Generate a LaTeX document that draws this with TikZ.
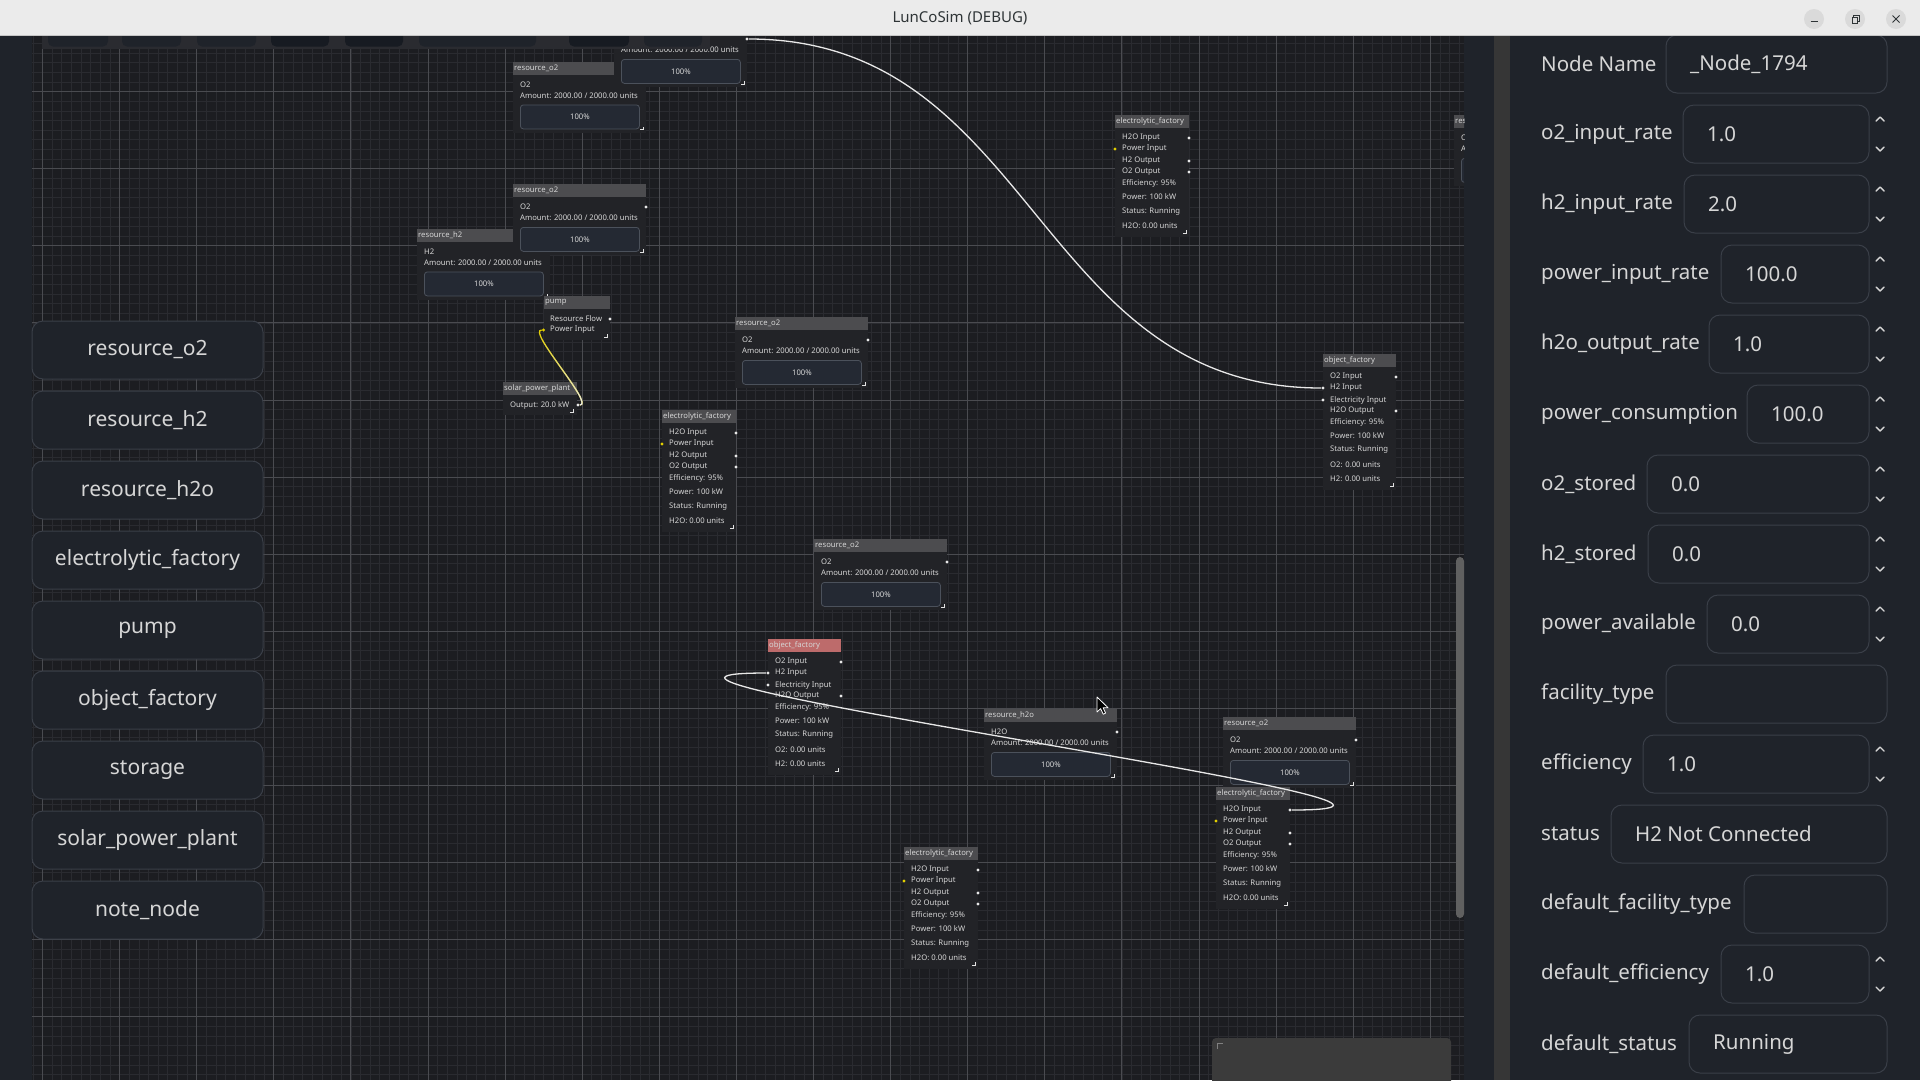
\documentclass[tikz,border=0pt]{standalone}
\usepackage{fontspec}
\setmainfont{Noto Sans}
\usetikzlibrary{fadings}

\definecolor{titlebg}{HTML}{EBEBEB}
\definecolor{titleink}{HTML}{2E3436}
\definecolor{winbtn}{HTML}{DADADA}
\definecolor{panel}{HTML}{1F232A}
\definecolor{splitter}{HTML}{363636}
\definecolor{canvas}{HTML}{1C1D21}
\definecolor{gminor}{HTML}{2A2B30}
\definecolor{gmajor}{HTML}{4A4B50}
\definecolor{nodebody}{HTML}{222327}
\definecolor{nodehead}{HTML}{4C4C4F}
\definecolor{redhead}{HTML}{BD6B6B}
\definecolor{barfill}{HTML}{242933}
\definecolor{barline}{HTML}{4B515B}
\definecolor{ink}{HTML}{D6D6D6}
\definecolor{wire}{HTML}{E8E8E8}
\definecolor{volt}{HTML}{E2CF00}
\definecolor{fieldline}{HTML}{3A3F48}
\definecolor{toolbg}{HTML}{2A2B30}
\definecolor{tooldark}{HTML}{171B22}

\tikzfading[name=wirefade, top color=transparent!100, bottom color=transparent!0]

\begin{document}
\begin{tikzpicture}[x=1pt,y=-1pt,
tiny/.style={font=\fontsize{7.7}{9}\selectfont,text=ink,anchor=west,inner sep=0pt},
port/.style={circle,fill=wire,inner sep=0pt,minimum size=3.4pt},
bar/.style={draw=barline,fill=barfill,rounded corners=3pt,line width=0.8pt,
  minimum width=119pt,minimum height=24pt,anchor=north west,
  font=\fontsize{7.7}{9}\selectfont,text=ink},
grip/.style={draw=ink!70,line width=0.6pt},
wirepath/.style={draw=wire,line width=1.3pt},
sidebtn/.style={draw=fieldline,fill=panel,rounded corners=11pt,line width=1pt,
  minimum width=231pt,minimum height=58pt,font=\fontsize{21}{25}\selectfont,text=ink},
plabel/.style={font=\fontsize{20.5}{24}\selectfont,text=ink,anchor=west,inner sep=0pt},
field/.style={draw=fieldline,fill=panel,rounded corners=11pt,line width=1pt},
chev/.style={draw=ink,line width=1.4pt,line cap=round,line join=round},
winbutton/.style={circle,fill=winbtn,minimum size=20pt,inner sep=0pt}]

\useasboundingbox (0,0) rectangle (1920,1080);
\fill[panel] (0,0) rectangle (1920,1080);
\fill[canvas] (32,36) rectangle (1464,1080);
\fill[splitter] (1494,36) rectangle (1510,1080);

% graph canvas
\begin{scope}
\clip (32,36) rectangle (1464,1080);
\foreach \k in {0,...,148}
  \draw[gminor,line width=0.7pt] (32.86+9.6375*\k,36) -- ++(0,1044);
\foreach \k in {3,...,110}
  \draw[gminor,line width=0.7pt] (32,14.5+9.6375*\k) -- ++(1432,0);
\foreach \k in {0,...,18}
  \draw[gmajor,line width=0.9pt] (42.5+77.1*\k,36) -- ++(0,1044);
\foreach \k in {1,...,13}
  \draw[gmajor,line width=0.9pt] (32,14.5+77.1*\k) -- ++(1432,0);

% resource nodes
\foreach \n/\hx/\hy/\ttl/\lab in {resB/513/61.5/resource\_o2/O2,
  resA/614/16/resource\_o2/O2, resD/417/228.5/resource\_h2/H2,
  resC/513/184/resource\_o2/O2, resG/735/317/resource\_o2/O2,
  resK/814/539/resource\_o2/O2, resM/984/709/resource\_h2o/H2O,
  resN/1223/717/resource\_o2/O2, resE/1454/115/resource\_o2/O2}{
  \fill[nodebody] (\hx,\hy+13) rectangle (\hx+133,\hy+71);
  \fill[nodehead] (\hx,\hy) rectangle (\hx+133,\hy+13);
  \node[tiny] (\n-t) at (\hx+1,\hy+6.5) {\ttl};
  \node[tiny] (\n-l) at (\hx+7,\hy+23) {\lab};
  \node[tiny] (\n-a) at (\hx+7,\hy+34) {Amount: 2000.00 / 2000.00 units};
  \node[bar] (\n-b) at (\hx+7,\hy+43) {100\%};
  \node[port] (\n-o) at (\hx+133,\hy+23) {};
  \draw[grip] (\hx+127,\hy+68) -- (\hx+130,\hy+68) -- (\hx+130,\hy+65);
}

% pump and solar plant
\fill[nodebody] (544,309) rectangle (610,340);
\fill[nodehead] (544,296) rectangle (610,309);
\node[tiny] (pump-t) at (545,302.5) {pump};
\node[tiny] (pump-r1) at (550,319) {Resource Flow};
\node[tiny] (pump-r2) at (550,330) {Power Input};
\node[port] (pump-o) at (610,319) {};
\node[port,fill=volt] (pump-pw) at (543.5,330) {};
\draw[grip] (604,337) -- (607,337) -- (607,334);

\fill[nodebody] (503,395) rectangle (577,415);
\fill[nodehead] (503,382) rectangle (577,395);
\node[tiny] (sol-t) at (504,388.5) {solar\_power\_plant};
\node[tiny] (sol-r1) at (510,405) {Output: 20.0 kW};
\node[port] (sol-o) at (578,405) {};
\draw[grip] (570,412) -- (573,412) -- (573,409);

% electrolytic factories
\foreach \n/\hx/\hy in {ef1/662/410, ef2/1115/115, ef3/1216/787, ef4/904/847}{
  \fill[nodebody] (\hx,\hy+13) rectangle (\hx+74,\hy+122);
  \fill[nodehead] (\hx,\hy) rectangle (\hx+74,\hy+13);
  \node[tiny] (\n-t) at (\hx+1,\hy+6.5) {electrolytic\_factory};
  \foreach \t/\dy [count=\k] in {H2O Input/23, Power Input/34, H2 Output/46,
    O2 Output/57, Efficiency: 95\%/68, Power: 100 kW/82, Status: Running/97,
    H2O: 0.00 units/111}
    \node[tiny] (\n-r\k) at (\hx+7,\hy+\dy) {\t};
  \node[port] (\n-h2o) at (\hx+74,\hy+23) {};
  \node[port,fill=volt] (\n-pw) at (\hx,\hy+34) {};
  \node[port] (\n-h2) at (\hx+74,\hy+46) {};
  \node[port] (\n-o2) at (\hx+74,\hy+57) {};
  \draw[grip] (\hx+68,\hy+118) -- (\hx+71,\hy+118) -- (\hx+71,\hy+115);
}

% object factories
\foreach \n/\hx/\hy/\hc in {of1/1323/354/nodehead, of2/768/639/redhead}{
  \fill[nodebody] (\hx,\hy+13) rectangle (\hx+73,\hy+136);
  \fill[\hc] (\hx,\hy) rectangle (\hx+73,\hy+13);
  \node[tiny] (\n-t) at (\hx+1,\hy+6.5) {object\_factory};
  \foreach \t/\dy [count=\k] in {O2 Input/23, H2 Input/34, Electricity Input/46,
    H2O Output/57, Efficiency: 95\%/68, Power: 100 kW/82, Status: Running/96,
    O2: 0.00 units/111, H2: 0.00 units/125}
    \node[tiny] (\n-r\k) at (\hx+7,\hy+\dy) {\t};
  \node[port] (\n-o2) at (\hx+73,\hy+23) {};
  \node[port] (\n-h2) at (\hx,\hy+34) {};
  \node[port] (\n-el) at (\hx,\hy+46) {};
  \node[port] (\n-h2o) at (\hx+73,\hy+57) {};
  \draw[grip] (\hx+67,\hy+132) -- (\hx+70,\hy+132) -- (\hx+70,\hy+129);
}

% connections
\draw[wirepath] (resA-o) .. controls +(288,0) and +(-288,0) .. (of1-h2);
\draw[wirepath] (ef3-h2o) .. controls +(260,0) and +(-260,0) .. (of2-h2);
\draw[volt,line width=1.3pt] (sol-o) .. controls +(17,0) and +(-17,0) .. (pump-pw);
\draw[wire,line width=1.3pt,path fading=wirefade] (sol-o) .. controls +(17,0) and +(-17,0) .. (pump-pw);

% toolbar, scrollbar, minimap, cursor
\fill[toolbg] (42,36) rectangle (710,49);
\foreach \xa/\xb/\c in {48/108/panel, 122/181/panel, 197/256/panel, 271/329/tooldark,
  345/403/tooldark, 419/536/panel, 569/629/tooldark, 644/702/panel}
  \fill[\c,rounded corners=5pt] (\xa,28) rectangle (\xb,46.5);
\fill[gray!75!black,rounded corners=4pt] (1456,557) rectangle (1464,918);
\fill[white!23!black,rounded corners=4pt] (1212,1038) rectangle (1451,1090);
\draw[gray,line width=1pt] (1217,1049) -- (1217,1043) -- (1223,1043);
\draw[white,fill=black,line width=0.8pt,line join=round] (1097,697) -- ++(0,15)
  -- ++(3.6,-3.4) -- ++(2.6,5.6) -- ++(2.4,-1.1) -- ++(-2.5,-5.4) -- ++(5,0) -- cycle;
\end{scope}

% left palette
\foreach \b [count=\q from 0] in {resource\_o2, resource\_h2, resource\_h2o,
  electrolytic\_factory, pump, object\_factory, storage, solar\_power\_plant, note\_node}
  \node[sidebtn] (btn\q) at (147.5,350+70*\q) {\b};

% inspector
\foreach \lab/\bx/\val/\spin [count=\q from 0] in {Node Name/1666/\_Node\_1794/0,
  o2\_input\_rate/1683/1.0/1, h2\_input\_rate/1684/2.0/1,
  power\_input\_rate/1721/100.0/1, h2o\_output\_rate/1709/1.0/1,
  power\_consumption/1747/100.0/1, o2\_stored/1647/0.0/1, h2\_stored/1648/0.0/1,
  power\_available/1707/0.0/1, facility\_type/1666//0, efficiency/1643/1.0/1,
  status/1611/H2 Not Connected/0, default\_facility\_type/1744//0,
  default\_efficiency/1721/1.0/1, default\_status/1689/Running/0}{
  \pgfmathsetmacro\cy{64+70*\q}
  \pgfmathsetmacro\bxr{\spin==1 ? 1869 : 1887}
  \node[plabel] (lab\q) at (1541,\cy) {\lab};
  \draw[field] (\bx,\cy-29) rectangle (\bxr,\cy+29);
  \node[plabel] (val\q) at (\bx+24,\cy) {\val};
  \ifnum\spin=1
    \draw[chev] (1876,\cy-13) -- (1880,\cy-17) -- (1884,\cy-13);
    \draw[chev] (1876,\cy+13) -- (1880,\cy+17) -- (1884,\cy+13);
  \fi
}

% title bar
\fill[titlebg] (0,0) rectangle (1920,36);
\draw[gray!45,line width=0.8pt] (0,35.6) -- (1920,35.6);
\node[font=\fontsize{15}{18}\selectfont,text=titleink] (title) at (960,18) {LunCoSim (DEBUG)};
\node[winbutton] (wmin) at (1814,19) {};
\node[winbutton] (wmax) at (1855,19) {};
\node[winbutton] (wclose) at (1896,19) {};
\draw[titleink,line width=1pt] (1810.5,21) -- (1817.5,21);
\draw[titleink,line width=0.9pt] (1852,17.5) rectangle (1857.5,23)
  (1853.8,17.5) -- (1853.8,15.5) -- (1859.3,15.5) -- (1859.3,21) -- (1857.5,21);
\draw[titleink,line width=1pt] (1892.5,15.5) -- (1899.5,22.5) (1899.5,15.5) -- (1892.5,22.5);
\end{tikzpicture}
\end{document}
